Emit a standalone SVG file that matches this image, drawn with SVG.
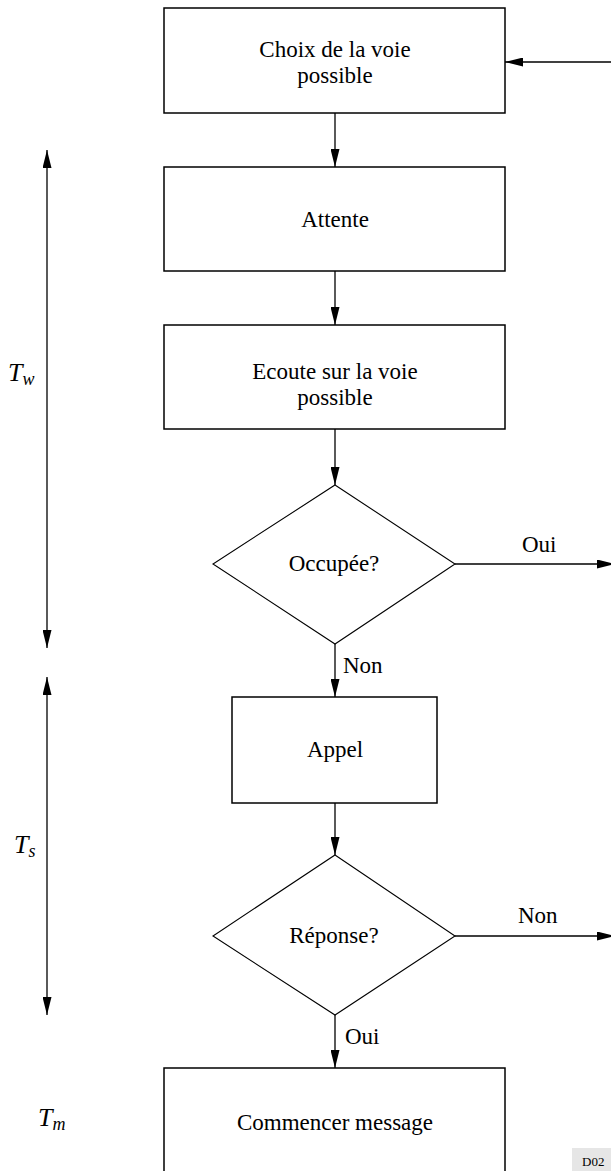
<svg xmlns="http://www.w3.org/2000/svg" width="611" height="1171" viewBox="0 0 611 1171">
<defs>
<marker id="ah" viewBox="0 0 18 9" refX="18" refY="4.5" markerWidth="18" markerHeight="9" markerUnits="userSpaceOnUse" orient="auto-start-reverse">
<path d="M0,0 L18,4.5 L0,9 Z" fill="#000"/>
</marker>
<style>
.box{fill:#fff;stroke:#000;stroke-width:1.5}
.dia{fill:#fff;stroke:#000;stroke-width:1.1}
.t{font-family:"Liberation Serif","Times New Roman",serif;font-size:23px;fill:#000;text-anchor:middle}
.lbl{font-family:"Liberation Serif","Times New Roman",serif;font-size:23px;fill:#000}
.it{font-family:"Liberation Serif","Times New Roman",serif;font-size:26px;font-style:italic;fill:#000}
.sub{font-size:18px}
.code{font-family:"Liberation Serif","Times New Roman",serif;font-size:13px;fill:#000}
.c{fill:none;stroke:#000;stroke-width:1.3}
</style>
</defs>
<rect width="611" height="1171" fill="#fff"/>

<g id="connectors">
<line class="c" x1="611" y1="62" x2="505" y2="62" marker-end="url(#ah)"/>
<line class="c" x1="335" y1="113" x2="335" y2="167" marker-end="url(#ah)"/>
<line class="c" x1="335" y1="271" x2="335" y2="325" marker-end="url(#ah)"/>
<line class="c" x1="335" y1="429" x2="335" y2="485" marker-end="url(#ah)"/>
<line class="c" x1="335" y1="644" x2="335" y2="697" marker-end="url(#ah)"/>
<line class="c" x1="455" y1="564" x2="615" y2="564" marker-end="url(#ah)"/>
<line class="c" x1="335" y1="803" x2="335" y2="855" marker-end="url(#ah)"/>
<line class="c" x1="455" y1="936" x2="615" y2="936" marker-end="url(#ah)"/>
<line class="c" x1="335" y1="1015" x2="335" y2="1068" marker-end="url(#ah)"/>
<line class="c" x1="47" y1="150" x2="47" y2="648" marker-start="url(#ah)" marker-end="url(#ah)"/>
<line class="c" x1="47" y1="677" x2="47" y2="1015" marker-start="url(#ah)" marker-end="url(#ah)"/>
<text class="lbl" x="522" y="552">Oui</text>
<text class="lbl" x="343" y="673">Non</text>
<text class="lbl" x="518" y="923">Non</text>
<text class="lbl" x="345" y="1044">Oui</text>
</g>

<g id="n1">
<rect class="box" x="164" y="8" width="341" height="105"/>
<text class="t" x="335" y="57">Choix de la voie</text>
<text class="t" x="335" y="83">possible</text>
</g>
<g id="n2">
<rect class="box" x="164" y="167" width="341" height="104"/>
<text class="t" x="335" y="227">Attente</text>
</g>
<g id="n3">
<rect class="box" x="164" y="325" width="341" height="104"/>
<text class="t" x="335" y="379">Ecoute sur la voie</text>
<text class="t" x="335" y="405">possible</text>
</g>
<g id="n4">
<polygon class="dia" points="335,485 455,564 335,644 213,564"/>
<text class="t" x="334" y="571">Occupée?</text>
</g>
<g id="n5">
<rect class="box" x="232" y="697" width="205" height="106"/>
<text class="t" x="335" y="757">Appel</text>
</g>
<g id="n6">
<polygon class="dia" points="335,855 455,936 335,1015 213,936"/>
<text class="t" x="334" y="943">Réponse?</text>
</g>
<g id="n7">
<rect class="box" x="164" y="1068" width="341" height="110"/>
<text class="t" x="335" y="1130">Commencer message</text>
</g>

<g id="labels">
<text class="it" x="8" y="381">T<tspan class="sub" dy="4">w</tspan></text>
<text class="it" x="14" y="853">T<tspan class="sub" dy="4">s</tspan></text>
<text class="it" x="38" y="1126">T<tspan class="sub" dy="4">m</tspan></text>
<rect x="572" y="1148" width="39" height="23" fill="#e6e6e6"/>
<text class="code" x="582" y="1166">D02</text>
</g>
</svg>
